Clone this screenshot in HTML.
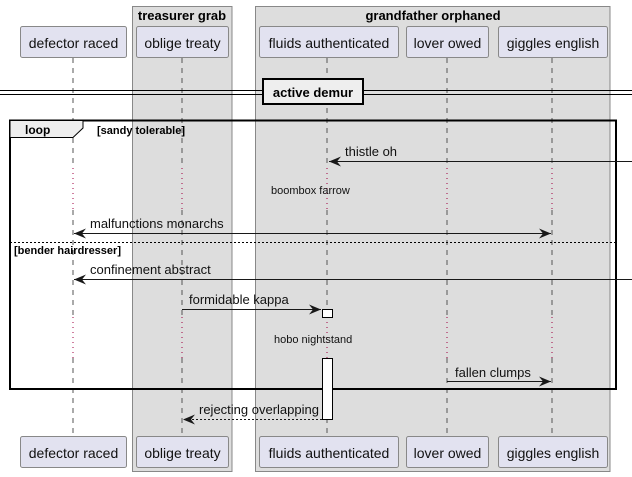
<!DOCTYPE html>
<html><head><style>
html,body{margin:0;padding:0;background:#fff;}
svg{display:block;font-family:"Liberation Sans",sans-serif;}
</style></head><body>
<svg width="632" height="477" viewBox="0 0 632 477" xmlns="http://www.w3.org/2000/svg">
<defs>
<marker id="a" markerWidth="14" markerHeight="12" refX="12" refY="5" orient="auto" markerUnits="userSpaceOnUse">
<path d="M0,0 L12,5 L0,10 L4,5 Z" fill="#181818"/></marker>
<marker id="as" markerWidth="14" markerHeight="12" refX="0" refY="5" orient="auto" markerUnits="userSpaceOnUse">
<path d="M12,0 L0,5 L12,10 L8,5 Z" fill="#181818"/></marker>
</defs>
<!-- boxes -->
<rect x="132.5" y="6.5" width="99.5" height="465" fill="#dddddd" stroke="#888" stroke-width="1"/>
<text x="182" y="20" font-size="13" font-weight="bold" text-anchor="middle" fill="#000">treasurer grab</text>
<rect x="255.5" y="6.5" width="354.5" height="465" fill="#dddddd" stroke="#888" stroke-width="1"/>
<text x="433" y="20" font-size="13" font-weight="bold" text-anchor="middle" fill="#000">grandfather orphaned</text>
<!-- lifelines -->
<g stroke="#555" stroke-width="1" stroke-dasharray="5,5">
<line x1="73" y1="58" x2="73" y2="168"/><line x1="73" y1="210" x2="73" y2="317"/><line x1="73" y1="358" x2="73" y2="436"/>
<line x1="182" y1="58" x2="182" y2="168"/><line x1="182" y1="210" x2="182" y2="317"/><line x1="182" y1="358" x2="182" y2="436"/>
<line x1="327" y1="58" x2="327" y2="168"/><line x1="327" y1="210" x2="327" y2="317"/><line x1="327" y1="358" x2="327" y2="436"/>
<line x1="447" y1="58" x2="447" y2="168"/><line x1="447" y1="210" x2="447" y2="317"/><line x1="447" y1="358" x2="447" y2="436"/>
<line x1="552" y1="58" x2="552" y2="168"/><line x1="552" y1="210" x2="552" y2="317"/><line x1="552" y1="358" x2="552" y2="436"/>
</g>
<g stroke="#a00040" stroke-width="1" stroke-dasharray="1,4">
<line x1="73" y1="168" x2="73" y2="210"/><line x1="182" y1="168" x2="182" y2="210"/><line x1="327" y1="168" x2="327" y2="210"/><line x1="447" y1="168" x2="447" y2="210"/><line x1="552" y1="168" x2="552" y2="210"/>
<line x1="73" y1="317" x2="73" y2="358"/><line x1="182" y1="317" x2="182" y2="358"/><line x1="327" y1="317" x2="327" y2="358"/><line x1="447" y1="317" x2="447" y2="358"/><line x1="552" y1="317" x2="552" y2="358"/>
</g>
<!-- participants -->
<g fill="#e2e2f0" stroke="#888" stroke-width="1">
<rect x="20.5" y="26.5" width="106" height="31" rx="2"/>
<rect x="136.5" y="26.5" width="92" height="31" rx="2"/>
<rect x="259.5" y="26.5" width="139" height="31" rx="2"/>
<rect x="406.5" y="26.5" width="82" height="31" rx="2"/>
<rect x="498.5" y="26.5" width="109" height="31" rx="2"/>
<rect x="20.5" y="436.5" width="106" height="31" rx="2"/>
<rect x="136.5" y="436.5" width="92" height="31" rx="2"/>
<rect x="259.5" y="436.5" width="139" height="31" rx="2"/>
<rect x="406.5" y="436.5" width="82" height="31" rx="2"/>
<rect x="498.5" y="436.5" width="109" height="31" rx="2"/>
</g>
<g font-size="14" fill="#111" text-anchor="middle">
<text x="73.5" y="48">defector raced</text><text x="182.5" y="48">oblige treaty</text><text x="329" y="48">fluids authenticated</text><text x="447.5" y="48">lover owed</text><text x="553" y="48">giggles english</text>
<text x="73.5" y="458">defector raced</text><text x="182.5" y="458">oblige treaty</text><text x="329" y="458">fluids authenticated</text><text x="447.5" y="458">lover owed</text><text x="553" y="458">giggles english</text>
</g>
<!-- divider -->
<line x1="0" y1="90.5" x2="632" y2="90.5" stroke="#000"/>
<line x1="0" y1="94.5" x2="632" y2="94.5" stroke="#000"/>
<rect x="263" y="79" width="100" height="25" fill="#eeeeee" stroke="#000" stroke-width="2"/>
<text x="313" y="97" font-size="13" font-weight="bold" text-anchor="middle">active demur</text>
<!-- loop frame -->
<rect x="10" y="120.5" width="606" height="268.5" fill="none" stroke="#000" stroke-width="2"/>
<path d="M10,120.5 H83 V128 L73,137.5 H10 Z" fill="#eeeeee" stroke="#000" stroke-width="1"/>
<text x="25" y="134" font-size="12" font-weight="bold">loop</text>
<text x="97" y="134" font-size="11" font-weight="bold">[sandy tolerable]</text>
<line x1="10" y1="242.5" x2="616" y2="242.5" stroke="#000" stroke-dasharray="2,2"/>
<text x="14" y="254" font-size="11" font-weight="bold">[bender hairdresser]</text>
<!-- activation -->
<rect x="322.5" y="309.5" width="10" height="8" fill="#fff" stroke="#000"/>
<rect x="322.5" y="358.5" width="10" height="61" fill="#fff" stroke="#000"/>
<!-- messages -->
<g stroke="#181818" stroke-width="1" fill="none">
<line x1="632" y1="161.5" x2="329" y2="161.5" marker-end="url(#a)"/>
<line x1="74" y1="233.5" x2="551" y2="233.5" marker-start="url(#as)" marker-end="url(#a)"/>
<line x1="632" y1="279.5" x2="74" y2="279.5" marker-end="url(#a)"/>
<line x1="182" y1="309.5" x2="321" y2="309.5" marker-end="url(#a)"/>
<line x1="447" y1="381.5" x2="551" y2="381.5" marker-end="url(#a)"/>
<line x1="322" y1="419.5" x2="183" y2="419.5" stroke-dasharray="2,2" marker-end="url(#a)"/>
</g>
<g font-size="13" fill="#111">
<text x="345" y="156">thistle oh</text>
<text x="90" y="228">malfunctions monarchs</text>
<text x="90" y="274">confinement abstract</text>
<text x="189" y="304">formidable kappa</text>
<text x="455" y="377">fallen clumps</text>
<text x="199" y="414">rejecting overlapping</text>
</g>
<g font-size="11" fill="#111">
<text x="271" y="194">boombox farrow</text>
<text x="274" y="343">hobo nightstand</text>
</g>
</svg>
</body></html>
